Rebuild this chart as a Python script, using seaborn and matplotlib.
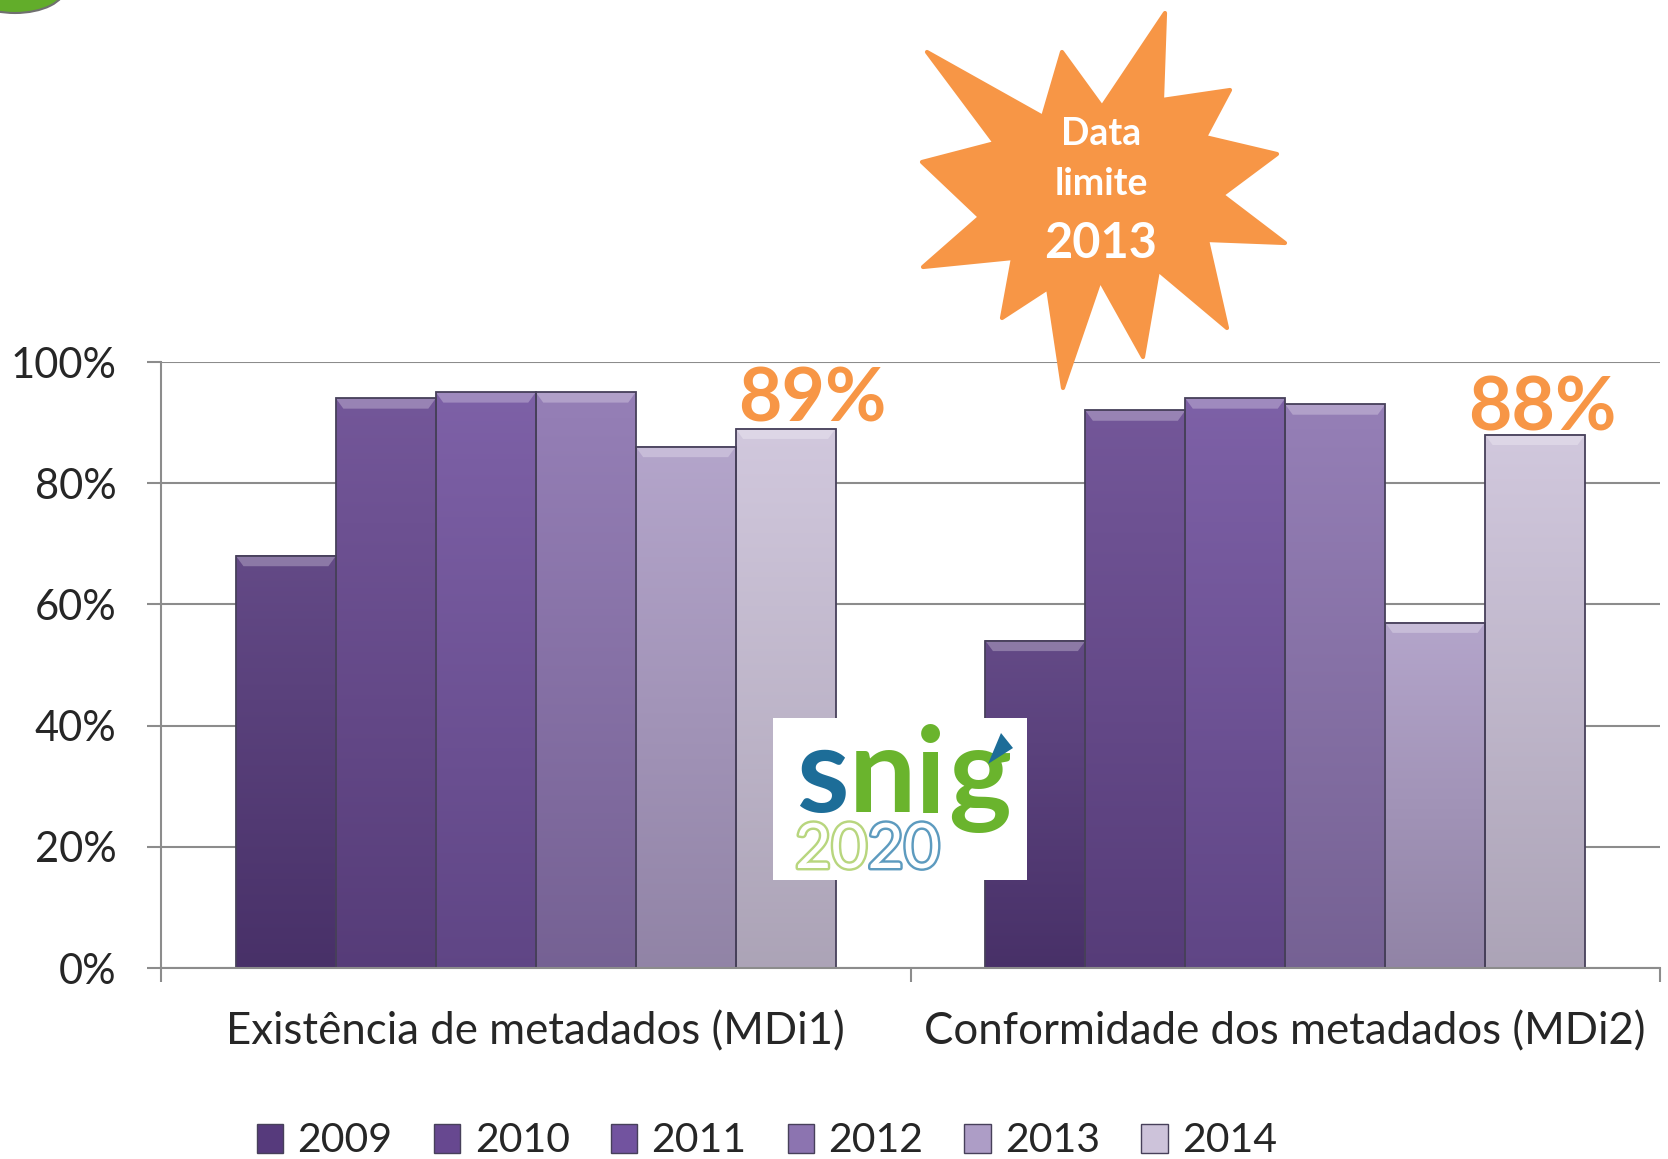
import matplotlib
matplotlib.use("Agg")
import matplotlib.pyplot as plt
import matplotlib.patheffects as pe
from matplotlib.colors import to_rgb
from matplotlib.patches import Polygon, Rectangle, Ellipse
import numpy as np
import pandas as pd
import seaborn as sns

# data
categories = ["Existência de metadados (MDi1)", "Conformidade dos metadados (MDi2)"]
years = ["2009", "2010", "2011", "2012", "2013", "2014"]
mdi1 = [68, 94, 95, 95, 86, 89]
mdi2 = [54, 92, 94, 93, 57, 88]
callouts = ["89%", "88%"]
palette = ["#563a7c", "#674890", "#72539f", "#8c74b0", "#ad9dc6", "#cdc3da"]

df = pd.DataFrame({
    "indicador": np.repeat(categories, len(years)),
    "ano": years * 2,
    "valor": mdi1 + mdi2,
})

sns.set_theme(style="white")
plt.rcParams["font.family"] = ["Lato", "DejaVu Sans"]

W, H = 1668, 1159
fig = plt.figure(figsize=(W / 100, H / 100), dpi=100)
ax = fig.add_axes([161 / W, 1 - 968 / H, (1660 - 161) / W, (968 - 362) / H])

edge = "#47405a"
sns.barplot(data=df, x="indicador", y="valor", hue="ano", palette=palette,
            width=0.8, saturation=1, edgecolor=edge, linewidth=1.3, ax=ax, legend=False)

# shaded look: vertical gradient + light bevel, built from the bar patches
bars = list(ax.patches)
for b in bars:
    c = np.array(to_rgb(b.get_facecolor()))
    top = c + (1 - c) * 0.08
    bot = c * 0.84
    t = np.linspace(0, 1, 64)[:, None, None]
    grad = top * (1 - t) + bot * t
    x0, w, h = b.get_x(), b.get_width(), b.get_height()
    ax.imshow(grad, extent=(x0, x0 + w, 0, h), aspect="auto", origin="upper",
              zorder=1.1, interpolation="bilinear")
    bevel = c + (1 - c) * 0.32
    ax.add_patch(Polygon([(x0, h), (x0 + w, h), (x0 + w - 0.01, h - 1.7), (x0 + 0.01, h - 1.7)],
                         closed=True, fc=bevel, ec="none", zorder=1.2))
    b.set_facecolor("none")
    b.set_zorder(1.3)

ax.set_xlim(-0.5, 1.5)
ax.set_ylim(0, 100)
ax.set_yticks(range(0, 101, 20))
ax.set_yticklabels([f"{v}%" for v in range(0, 101, 20)])
ax.set_xticks([-0.5, 0.5, 1.5])
ax.set_xticklabels([])
ax.set_xticks([0, 1], minor=True)
ax.set_xticklabels(categories, minor=True)
ax.set_xlabel("")
ax.set_ylabel("")

grey = "#8c8c8c"
ax.yaxis.grid(True, color=grey, lw=1.5)
ax.set_axisbelow(True)
for s in ["top", "right"]:
    ax.spines[s].set_visible(False)
for s in ["left", "bottom"]:
    ax.spines[s].set_color(grey)
    ax.spines[s].set_linewidth(1.5)
ax.tick_params(axis="y", length=10, width=1.5, color=grey, labelsize=30, pad=22, left=True)
ax.tick_params(axis="x", which="major", length=10, width=1.5, color=grey, bottom=True)
ax.tick_params(axis="x", which="minor", length=0, labelsize=31.5, pad=31)

# orange callouts above the 2014 bars
last = [bars[5 * 2 + 0], bars[5 * 2 + 1]]
offsets = [(19, 5), (5, 3)]
for b, txt, off in zip(last, callouts, offsets):
    ax.annotate(txt, (b.get_x() + b.get_width() / 2, b.get_height()), xytext=off,
                textcoords="offset points", ha="center", va="baseline",
                fontsize=54, fontweight="bold", color="#f79646", zorder=6)

handles = [Rectangle((0, 0), 1, 1, fc=col, ec=edge, lw=1) for col in palette]
ax.legend(handles, years, loc="center", bbox_to_anchor=(767 / W, 1 - 1141 / H),
          bbox_transform=fig.transFigure, ncol=6, frameon=False, fontsize=29.5,
          handlelength=0.65, handleheight=0.7, handletextpad=0.35, columnspacing=1.0)

# starburst
star = [(927, 52), (1043, 117), (1062, 52), (1102, 107), (1165, 13), (1162, 100),
        (1230, 90), (1205, 137), (1277, 154), (1222, 195), (1285, 243), (1207, 240),
        (1227, 328), (1158, 270), (1143, 357), (1100, 280), (1063, 388), (1048, 288),
        (1002, 318), (1013, 258), (923, 267), (980, 217), (922, 162), (995, 143)]
star = [(x / W, 1 - y / H) for x, y in star]
fig.add_artist(Polygon(star, closed=True, transform=fig.transFigure, fc="#f79646",
                       ec="#f79646", lw=3, joinstyle="round", zorder=10))
for txt, y, size in [("Data", 134, 27), ("limite", 184, 27), ("2013", 244, 35)]:
    fig.text(1101 / W, 1 - y / H, txt, ha="center", va="center", fontsize=size,
             fontweight="bold", color="white", zorder=11)

# snig 2020 logo
fig.add_artist(Rectangle((773 / W, 1 - 880 / H), 254 / W, 162 / H, transform=fig.transFigure,
                         fc="white", ec="none", zorder=10))
renderer = fig.canvas.get_renderer()


def chain(parts, x, y, **kw):
    # place text pieces one after another, in figure pixels
    for txt, col, extra in parts:
        t = fig.text(x / W, 1 - y / H, txt, ha="left", va="baseline", color=col, zorder=11, **kw)
        ext = t.get_window_extent(renderer)
        x = ext.x1 + extra


chain([("s", "#1d6d98", 0), ("ni", "#6ab42d", 2), ("g", "#6ab42d", 0)], 796, 812,
      fontsize=86, fontweight="bold")
fig.add_artist(Polygon([(988 / W, 1 - 764 / H), (1001 / W, 1 - 733 / H), (1013 / W, 1 - 748 / H)],
                       closed=True, transform=fig.transFigure, fc="#1d6d98", ec="none", zorder=12))
stroke = lambda col: [pe.Stroke(linewidth=3.5, foreground=col), pe.Normal()]
t1 = fig.text(795 / W, 1 - 868 / H, "20", ha="left", va="baseline", fontsize=45,
              color="white", zorder=11, path_effects=stroke("#b8d67e"))
x1 = t1.get_window_extent(renderer).x1
fig.text(x1 / W, 1 - 868 / H, "20", ha="left", va="baseline", fontsize=45,
         color="white", zorder=11, path_effects=stroke("#5d9bbf"))

# green corner badge
fig.add_artist(Ellipse((15 / W, 1 + 12 / H), 100 / W, 50 / H, transform=fig.transFigure,
                       fc="#62ad2a", ec="#707070", lw=1.5, zorder=10))

fig.savefig("out.png", dpi=100)
